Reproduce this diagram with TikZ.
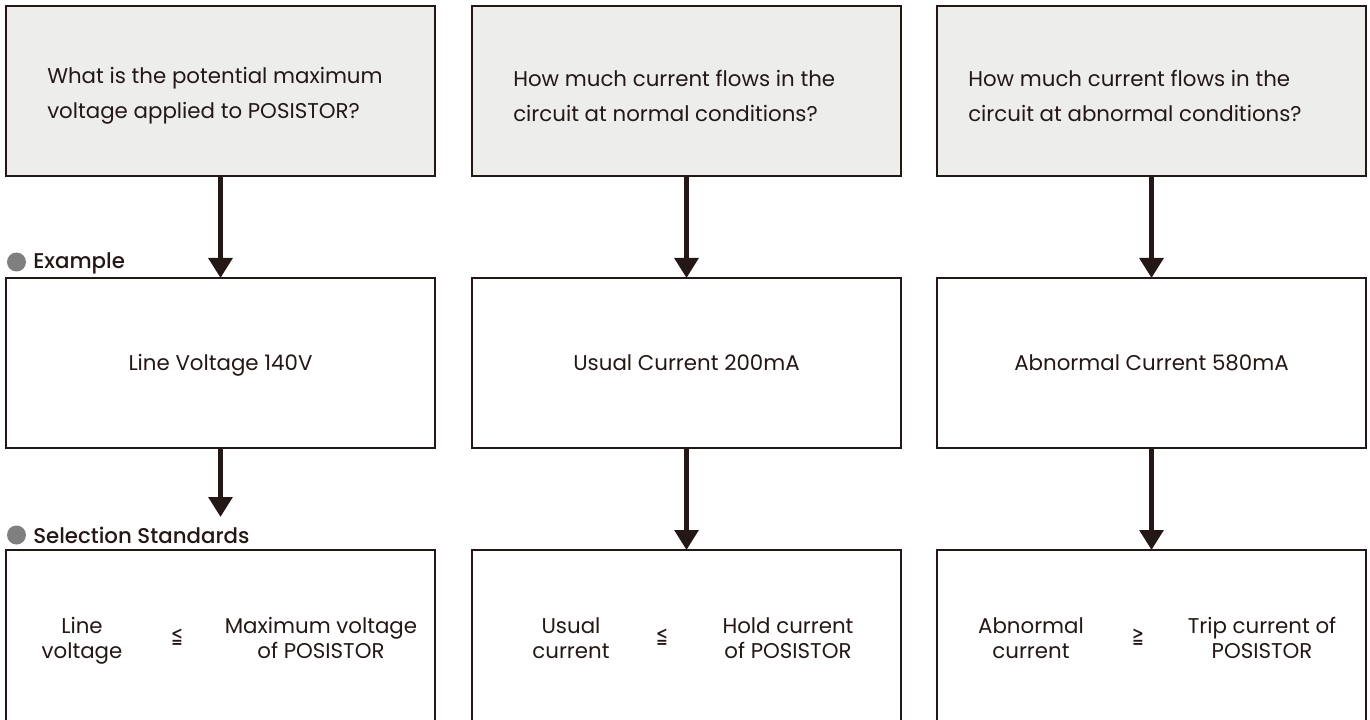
\documentclass[tikz,border=0pt]{standalone}
\usepackage{fontspec}
\setmainfont{Poppins}
\newfontfamily\headfont{Poppins Medium}
\newfontfamily\symfont{DejaVu Sans}
\usetikzlibrary{arrows.meta}
\definecolor{ink}{HTML}{231815}
\definecolor{qfill}{HTML}{EDEEEC}
\definecolor{dotgray}{HTML}{7F7F7F}
\begin{document}
\begin{tikzpicture}[x=0.75pt, y=-0.75pt,
  box/.style={draw=ink, line width=1.1pt, inner sep=0pt, outer sep=0pt, anchor=north west,
    minimum width=321.75pt, minimum height=127.5pt},
  qbox/.style={box, fill=qfill},
  lowbox/.style={box, minimum height=129pt},
  arr/.style={draw=ink, line width=3.75pt, -{Triangle[width=17.5pt,length=15pt]}},
  txt/.style={text=ink, inner sep=0pt, font=\fontsize{16}{26.25}\selectfont},
  btxt/.style={text=ink, inner sep=0pt, align=center, font=\fontsize{16}{18.75}\selectfont},
  rel/.style={text=ink, inner sep=0pt, font=\symfont\fontsize{17}{17}\selectfont},
  head/.style={text=ink, inner sep=0pt, anchor=base west, font=\headfont\fontsize{16}{18}\selectfont},
  bullet/.style={circle, fill=dotgray, minimum size=14.25pt, inner sep=0pt}
]
\useasboundingbox (0,0) rectangle (1370,720);

% question boxes
\node[qbox] (q1) at (6,6) {};
\node[qbox] (q2) at (472,6) {};
\node[qbox] (q3) at (937,6) {};
\node[txt, align=left, anchor=west] (tq1) at (47,96) {What is the potential maximum\\voltage applied to POSISTOR?};
\node[txt, align=left, anchor=west] (tq2) at (513,96) {How much current flows in the\\circuit at normal conditions?};
\node[txt, align=left, anchor=west] (tq3) at (968,96) {How much current flows in the\\circuit at abnormal conditions?};

% example boxes
\node[box] (e1) at (6,278) {};
\node[box] (e2) at (472,278) {};
\node[box] (e3) at (937,278) {};
\node[txt, anchor=base] (te1) at (220.5,370) {Line Voltage 140V};
\node[txt, anchor=base] (te2) at (686.5,370) {Usual Current 200mA};
\node[txt, anchor=base] (te3) at (1151.5,370) {Abnormal Current 580mA};

% selection boxes
\node[lowbox] (s1) at (6,550) {};
\node[lowbox] (s2) at (472,550) {};
\node[lowbox] (s3) at (937,550) {};
\node[btxt] (sl1) at (82,641) {Line\\voltage};
\node[rel] (sr1) at (177,637) {\scalebox{0.62}[1]{≦}};
\node[btxt] (sg1) at (321,641) {Maximum voltage\\of POSISTOR\vphantom{g}};
\node[btxt] (sl2) at (571,641) {Usual\\current\vphantom{g}};
\node[rel] (sr2) at (662,637) {\scalebox{0.62}[1]{≦}};
\node[btxt] (sg2) at (788,641) {Hold current\\of POSISTOR\vphantom{g}};
\node[btxt] (sl3) at (1031,641) {Abnormal\\current\vphantom{g}};
\node[rel] (sr3) at (1138,637) {\scalebox{0.62}[1]{≧}};
\node[btxt] (sg3) at (1262,641) {Trip current of\\POSISTOR\vphantom{g}};

% headings
\node[bullet] (b1) at (16.5,262) {};
\node[head] (h1) at (33,269) {Example};
\node[bullet] (b2) at (16.5,535) {};
\node[head] (h2) at (33,543) {Selection Standards};

% arrows
\coordinate (c1) at (220.5,517);
\draw[arr] (q1.south) -- (e1.north);
\draw[arr] (q2.south) -- (e2.north);
\draw[arr] (q3.south) -- (e3.north);
\draw[arr] (e1.south) -- (c1);
\draw[arr] (e2.south) -- (s2.north);
\draw[arr] (e3.south) -- (s3.north);
\end{tikzpicture}
\end{document}
